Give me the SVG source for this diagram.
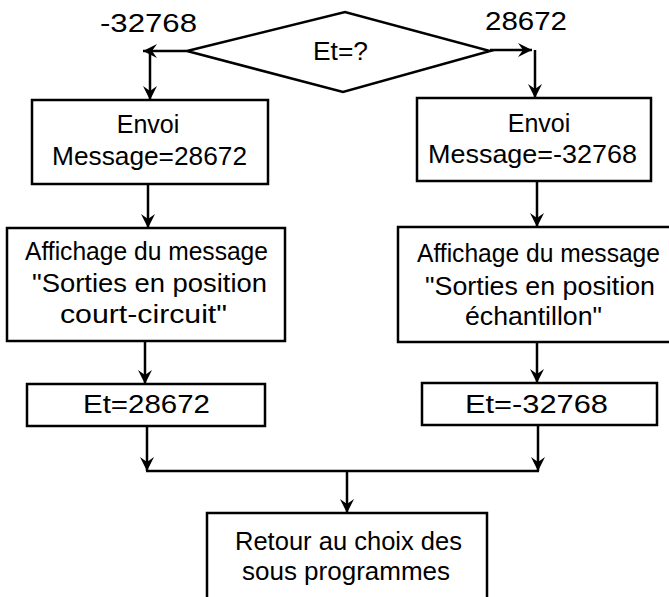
<svg xmlns="http://www.w3.org/2000/svg" width="669" height="597" viewBox="0 0 669 597">
<style>
.box{fill:#fff;stroke:#000;stroke-width:2.5}
.ln{fill:none;stroke:#000;stroke-width:2.5}
.t{font-family:"Liberation Sans",Arial,sans-serif;font-size:25px;fill:#000}
.c{text-anchor:middle}
</style>
<defs>
<marker id="ah" viewBox="0 0 14 14" refX="14" refY="7" markerWidth="14" markerHeight="14" markerUnits="userSpaceOnUse" orient="auto">
<path d="M0,0 L14,7 L0,14 L5,7 z" fill="#000"/>
</marker>
</defs>
<rect width="669" height="597" fill="#fff"/>
<g id="connectors">
<line class="ln" x1="187" y1="51" x2="143" y2="51" marker-end="url(#ah)"/>
<line class="ln" x1="150" y1="51" x2="150" y2="100" marker-end="url(#ah)"/>
<line class="ln" x1="490" y1="50" x2="532" y2="50" marker-end="url(#ah)"/>
<line class="ln" x1="535" y1="50" x2="535" y2="98" marker-end="url(#ah)"/>
<line class="ln" x1="148" y1="184" x2="148" y2="228" marker-end="url(#ah)"/>
<line class="ln" x1="537" y1="181" x2="537" y2="227" marker-end="url(#ah)"/>
<line class="ln" x1="145" y1="341" x2="145" y2="384" marker-end="url(#ah)"/>
<line class="ln" x1="537" y1="342" x2="537" y2="383" marker-end="url(#ah)"/>
<line class="ln" x1="147" y1="426" x2="147" y2="471" marker-end="url(#ah)"/>
<line class="ln" x1="538" y1="425" x2="538" y2="471" marker-end="url(#ah)"/>
<line class="ln" x1="146" y1="471" x2="539" y2="471"/>
<line class="ln" x1="347" y1="471" x2="347" y2="513" marker-end="url(#ah)"/>
</g>
<g id="decision">
<polygon class="box" points="187,51 345,12 490,51 343,92"/>
<text class="t" x="313" y="60" textLength="55" lengthAdjust="spacingAndGlyphs">Et=?</text>
</g>
<g id="label-left">
<text class="t" x="100" y="32" textLength="97" lengthAdjust="spacingAndGlyphs">-32768</text>
</g>
<g id="label-right">
<text class="t" x="485" y="30" textLength="82" lengthAdjust="spacingAndGlyphs">28672</text>
</g>
<g id="send-left">
<rect class="box" x="32" y="100" width="236" height="84"/>
<text class="t c" x="148" y="133">Envoi</text>
<text class="t" x="52" y="165" textLength="195" lengthAdjust="spacingAndGlyphs">Message=28672</text>
</g>
<g id="send-right">
<rect class="box" x="417" y="98" width="234" height="83"/>
<text class="t c" x="539" y="132">Envoi</text>
<text class="t" x="428" y="163" textLength="209" lengthAdjust="spacingAndGlyphs">Message=-32768</text>
</g>
<g id="display-left">
<rect class="box" x="7" y="228" width="278" height="113"/>
<text class="t" x="25" y="260" textLength="243" lengthAdjust="spacingAndGlyphs">Affichage du message</text>
<text class="t" x="32" y="292" textLength="235" lengthAdjust="spacingAndGlyphs">"Sorties en position</text>
<text class="t" x="60" y="323" textLength="167" lengthAdjust="spacingAndGlyphs">court-circuit"</text>
</g>
<g id="display-right">
<rect class="box" x="398" y="227" width="275" height="115"/>
<text class="t" x="417" y="262" textLength="243" lengthAdjust="spacingAndGlyphs">Affichage du message</text>
<text class="t" x="425" y="295" textLength="230" lengthAdjust="spacingAndGlyphs">"Sorties en position</text>
<text class="t" x="465" y="325" textLength="137" lengthAdjust="spacingAndGlyphs">échantillon"</text>
</g>
<g id="set-left">
<rect class="box" x="27" y="384" width="238" height="42"/>
<text class="t" x="83" y="413" textLength="127" lengthAdjust="spacingAndGlyphs">Et=28672</text>
</g>
<g id="set-right">
<rect class="box" x="422" y="383" width="235" height="42"/>
<text class="t" x="465" y="413" textLength="143" lengthAdjust="spacingAndGlyphs">Et=-32768</text>
</g>
<g id="return">
<rect class="box" x="207" y="513" width="280" height="95"/>
<text class="t" x="235" y="550" textLength="227" lengthAdjust="spacingAndGlyphs">Retour au choix des</text>
<text class="t" x="242" y="580" textLength="208" lengthAdjust="spacingAndGlyphs">sous programmes</text>
</g>
</svg>
